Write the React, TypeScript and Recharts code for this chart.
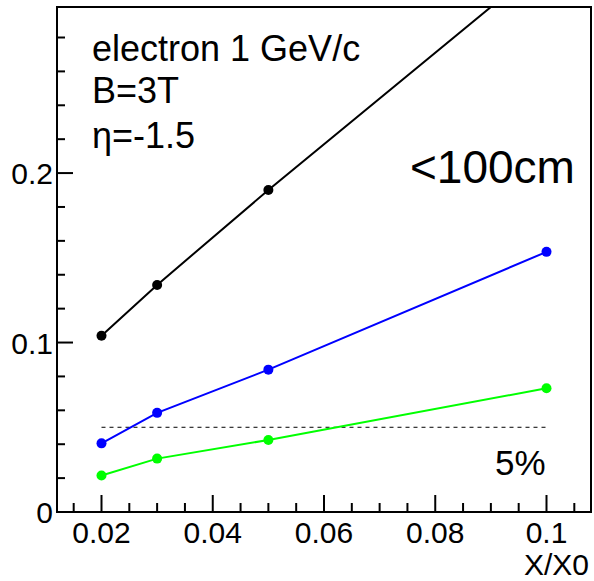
import React from "react";
import { LineChart, Line, XAxis, YAxis, ReferenceLine, ReferenceArea } from "recharts";

// X/X0 values and the three resolution curves
const xVals = [0.02, 0.03, 0.05, 0.1];
const blackVals = [0.104, 0.134, 0.19, 0.325];
const blueVals = [0.0405, 0.0585, 0.084, 0.1535];
const greenVals = [0.0215, 0.0315, 0.0425, 0.073];

const xTicks = [0.015, 0.02, 0.025, 0.03, 0.035, 0.04, 0.045, 0.05, 0.055, 0.06, 0.065, 0.07, 0.075, 0.08, 0.085, 0.09, 0.095, 0.1, 0.105];
const xMajor = ["0.02", "0.04", "0.06", "0.08", "0.1"];
const yTicks = [0, 0.02, 0.04, 0.06, 0.08, 0.1, 0.12, 0.14, 0.16, 0.18, 0.2, 0.22, 0.24, 0.26, 0.28];
const yMajor = ["0", "0.1", "0.2"];

const limitY = 0.05;
const limitX = [0.02, 0.1];

const rows = xVals.map((x, i) => ({
  x,
  black: blackVals[i],
  blue: blueVals[i],
  green: greenVals[i],
}));

const FONT = "'Liberation Sans', Arial, Helvetica, sans-serif";

const fmt = (v: number) => String(Number(v.toFixed(3)));

function XTick(props: any) {
  const { x, y, payload } = props;
  const lbl = fmt(payload.value);
  const major = xMajor.includes(lbl);
  return (
    <g>
      <line x1={x} y1={y} x2={x} y2={y - (major ? 17 : 9)} stroke="#000" strokeWidth={2} />
      {major && (
        <text x={x} y={y + 31} textAnchor="middle" fontSize={30} fontFamily={FONT} fill="#000">
          {lbl}
        </text>
      )}
    </g>
  );
}

function YTick(props: any) {
  const { x, y, payload } = props;
  const lbl = fmt(payload.value);
  const major = yMajor.includes(lbl);
  return (
    <g>
      <line x1={x} y1={y} x2={x + (major ? 16 : 8)} y2={y} stroke="#000" strokeWidth={2} />
      {major && (
        <text x={x - 4} y={y + 11} textAnchor="end" fontSize={30} fontFamily={FONT} fill="#000">
          {lbl}
        </text>
      )}
    </g>
  );
}

export default function App() {
  return (
    <div style={{ position: "absolute", left: 0, top: 0, width: 594, height: 581, background: "#fff" }}>
      <LineChart
        width={594}
        height={581}
        data={rows}
        margin={{ top: 7, right: 3, left: 0, bottom: 0 }}
      >
        <XAxis
          dataKey="x"
          type="number"
          domain={[0.012, 0.108]}
          allowDataOverflow
          ticks={xTicks}
          interval={0}
          height={69}
          tickSize={0}
          tickMargin={0}
          tickLine={false}
          tick={(p: any) => <XTick {...p} />}
          axisLine={{ stroke: "#000", strokeWidth: 2 }}
        />
        <YAxis
          type="number"
          domain={[0, 0.298]}
          allowDataOverflow
          ticks={yTicks}
          interval={0}
          width={57}
          tickSize={0}
          tickMargin={0}
          tickLine={false}
          tick={(p: any) => <YTick {...p} />}
          axisLine={{ stroke: "#000", strokeWidth: 2 }}
        />
        <ReferenceArea
          x1={0.012}
          x2={0.108}
          y1={0}
          y2={0.298}
          fill="none"
          stroke="#000"
          strokeWidth={2}
          ifOverflow="visible"
        />
        <ReferenceLine
          segment={[{ x: limitX[0], y: limitY }, { x: limitX[1], y: limitY }]}
          stroke="#000"
          strokeWidth={1}
          strokeDasharray="4 4"
        />
        <Line dataKey="black" stroke="#000" strokeWidth={2} dot={{ r: 5, fill: "#000", stroke: "#000", strokeWidth: 0 }} isAnimationActive={false} />
        <Line dataKey="blue" stroke="#0000ff" strokeWidth={2} dot={{ r: 5, fill: "#0000ff", stroke: "#0000ff", strokeWidth: 0 }} isAnimationActive={false} />
        <Line dataKey="green" stroke="#00ff00" strokeWidth={2} dot={{ r: 5, fill: "#00ff00", stroke: "#00ff00", strokeWidth: 0 }} isAnimationActive={false} />
      </LineChart>
      <svg width={594} height={581} style={{ position: "absolute", left: 0, top: 0, pointerEvents: "none" }}>
        <g fontFamily={FONT} fill="#000">
          <text x={92} y={61} fontSize={36}>electron 1 GeV/c</text>
          <text x={92} y={103} fontSize={36}>B=3T</text>
          <text x={92} y={148} fontSize={36}>η=-1.5</text>
          <text x={410} y={183} fontSize={46}>&lt;100cm</text>
          <text x={495} y={475} fontSize={35}>5%</text>
          <text x={589} y={575} fontSize={30} textAnchor="end">X/X0</text>
        </g>
      </svg>
    </div>
  );
}
